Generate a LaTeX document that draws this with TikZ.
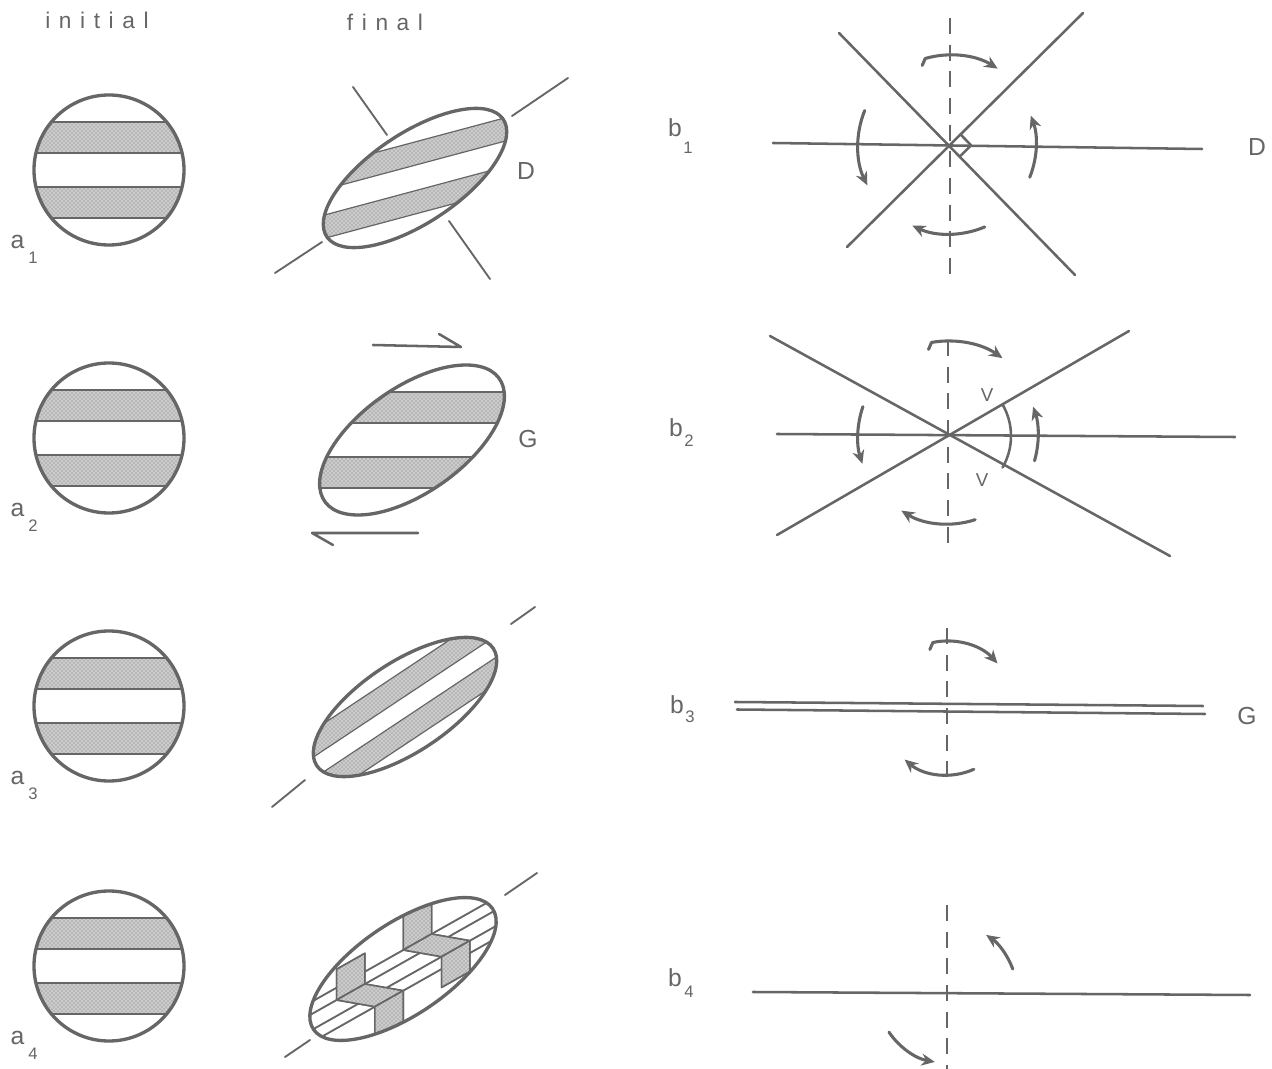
\documentclass[tikz,border=0pt]{standalone}
\usepackage{fontspec}
\setmainfont{Liberation Sans}
\newfontfamily\spacedfont[LetterSpace=38]{Liberation Sans}
\usetikzlibrary{patterns,arrows.meta,calc}
\definecolor{ink}{HTML}{666666}
\begin{document}
\begin{tikzpicture}[x=0.75pt,y=-0.75pt,line cap=round,line join=round,
  outl/.style={draw=ink,line width=2.5pt},
  thinln/.style={draw=ink,line width=1.4pt},
  bline/.style={draw=ink,line width=1.9pt},
  vdash/.style={draw=ink,line width=1.9pt,line cap=butt,dash pattern=on 12pt off 8pt},
  stip/.style={fill=black!20,postaction={pattern=crosshatch dots,pattern color=black!55}},
  bandedge/.style={draw=ink,line width=0.9pt},
  carrow/.style={draw=ink,line width=2.3pt,-{Stealth[length=10pt,width=9pt]}},
  lab/.style={text=ink,inner sep=0pt,font=\fontsize{18.5}{20}\selectfont},
  sublab/.style={text=ink,inner sep=0pt,font=\fontsize{12.5}{14}\selectfont},
  vlab/.style={text=ink,inner sep=0pt,font=\fontsize{14}{16}\selectfont},
  headlab/.style={text=ink,inner sep=0pt,font={\spacedfont\fontsize{17}{19}\selectfont}},
  face/.style={fill=white,draw=ink,line width=1.2pt,postaction={fill=black!20},postaction={pattern=crosshatch dots,pattern color=black!55},postaction={draw=ink,line width=1.2pt}}]

\path[use as bounding box,fill=white] (0,0) rectangle (1272,1069);

% headings
\node[headlab] (tinit) at (97,20) {initial};
\node[headlab] (tfin) at (385,22) {final};

% initial circles
\foreach \cy/\n in {170/1,438/2,706/3,966/4}{
  \begin{scope}
    \clip (109,\cy) circle[radius=75];
    \path[stip] (20,\cy-48) rectangle (200,\cy-17);
    \path[stip] (20,\cy+17) rectangle (200,\cy+48);
    \draw[bandedge] (20,\cy-48) -- (200,\cy-48) (20,\cy-17) -- (200,\cy-17)
                    (20,\cy+17) -- (200,\cy+17) (20,\cy+48) -- (200,\cy+48);
  \end{scope}
  \draw[outl] (109,\cy) circle[radius=75];
  \node[lab] (a\n) at (17.5,\cy+71.5) {a};
  \node[sublab] (a\n s) at (33,\cy+87.5) {\n};
}

% a1 final (D)
\begin{scope}[shift={(415,178)}]
  \begin{scope}[cm={1.1287,0.3024,0.4708,0.8773,(0,0)}]
    \clip (0,0) circle[radius=75];
    \path[stip] (-90,-48) rectangle (90,-17);
    \path[stip] (-90,17) rectangle (90,48);
    \draw[bandedge] (-90,-48)--(90,-48) (-90,-17)--(90,-17) (-90,17)--(90,17) (-90,48)--(90,48);
  \end{scope}
  \draw[outl,cm={1.1287,0.3024,0.4708,0.8773,(0,0)}] (0,0) circle[radius=75];
\end{scope}
\draw[thinln] (275,273) -- (322,242);
\draw[thinln] (512,116) -- (568,78);
\draw[thinln] (353,87) -- (387,135);
\draw[thinln] (449,221) -- (490,279);
\node[lab] (lD1) at (526,171) {D};

% a2 final (G)
\begin{scope}[shift={(412,440)}]
  \begin{scope}[cm={1,0,0.72,1,(0,0)}]
    \clip (0,0) circle[radius=75];
    \path[stip] (-150,-48) rectangle (150,-17);
    \path[stip] (-150,17) rectangle (150,48);
    \draw[bandedge] (-150,-48)--(150,-48) (-150,-17)--(150,-17) (-150,17)--(150,17) (-150,48)--(150,48);
  \end{scope}
  \draw[outl,cm={1,0,0.72,1,(0,0)}] (0,0) circle[radius=75];
\end{scope}
\draw[bline] (373,345) -- (461,347) -- (439,334);
\draw[bline] (418,533) -- (312,533) -- (333,545);
\node[lab] (lG1) at (528,439) {G};

% a3 final
\begin{scope}[shift={(405,707)}]
  \begin{scope}[cm={1.1769,0.7820,-0.3320,0.4997,(0,0)}]
    \clip (0,0) circle[radius=75];
    \path[stip] (-90,-52) rectangle (90,-15);
    \path[stip] (-90,15) rectangle (90,52);
    \draw[bandedge] (-90,-52)--(90,-52) (-90,-15)--(90,-15) (-90,15)--(90,15) (-90,52)--(90,52);
  \end{scope}
  \draw[outl,cm={1.1769,0.7820,-0.3320,0.4997,(0,0)}] (0,0) circle[radius=75];
\end{scope}
\draw[thinln] (272,807) -- (305,780);
\draw[thinln] (511,624) -- (535,607);

% a4 final
\begin{scope}
  \clip[rotate around={34:(403,969)}] (403,969) ellipse[x radius=108,y radius=46];
  \foreach \px/\py in {403.3/950,441.6/956.7,336.6/1000,374.9/1006.7}{
    \draw[thinln] (\px-170,\py+96) -- (\px+170,\py-96);
  }
  \draw[face] (403.3,950) -- (431.6,934) -- (431.6,900) -- (403.3,912) -- cycle;
  \draw[face] (403.3,950) -- (431.6,934) -- (469.9,940.7) -- (441.6,956.7) -- cycle;
  \draw[face] (441.6,956.7) -- (469.9,940.7) -- (469.9,971.4) -- (441.6,987.4) -- cycle;
  \draw[face] (336.6,1000) -- (364.9,984) -- (364.9,953.3) -- (336.6,969.3) -- cycle;
  \draw[face] (336.6,1000) -- (364.9,984) -- (403.2,990.7) -- (374.9,1006.7) -- cycle;
  \draw[face] (374.9,1006.7) -- (403.2,990.7) -- (403.2,1021.4) -- (374.9,1037.4) -- cycle;
\end{scope}
\draw[outl,rotate around={34:(403,969)}] (403,969) ellipse[x radius=108,y radius=46];
\draw[thinln] (285,1057) -- (310,1040);
\draw[thinln] (505,895) -- (537,873);

% b1
\coordinate (O1) at (950,145);
\draw[bline] (773,143) -- (1202,149);
\draw[bline] (839,33) -- (1075,275);
\draw[bline] (847,247) -- (1083,13);
\draw[vdash] (950,18) -- (950,277);
\draw[bline] (960.6,134.5) -- (971.1,145.3) -- (960.5,155.8);
\draw[carrow] ($(O1)+(-106:90)+(-3,7)$) -- ($(O1)+(-106:90)$) arc[start angle=-106,end angle=-58,radius=90];
\draw[carrow] ($(O1)+(202:92)$) arc[start angle=202,end angle=154,radius=92];
\draw[carrow] ($(O1)+(67:89)$) arc[start angle=67,end angle=115,radius=89];
\draw[carrow] ($(O1)+(22:86)$) arc[start angle=22,end angle=-20,radius=86];
\node[lab] (b1) at (675,128) {b};
\node[sublab] (b1s) at (688,148) {1};
\node[lab] (lD2) at (1257,147) {D};

% b2
\coordinate (O2) at (948,436);
\draw[bline] (777,434) -- (1235,437);
\draw[bline] (770,336) -- (1170,556);
\draw[bline] (777,535) -- (1129,331);
\draw[vdash] (948,340) -- (948,543);
\draw[bline] ($(O2)+(-30:63)$) arc[start angle=-30,end angle=30,radius=63];
\draw[carrow] ($(O2)+(-100:95)+(-3,7)$) -- ($(O2)+(-100:95)$) arc[start angle=-100,end angle=-55,radius=95];
\draw[carrow] ($(O2)+(199:90)$) arc[start angle=199,end angle=162,radius=90];
\draw[carrow] ($(O2)+(72:88)$) arc[start angle=72,end angle=122,radius=88];
\draw[carrow] ($(O2)+(16:90)$) arc[start angle=16,end angle=-19,radius=90];
\node[vlab] (v1) at (987,395) {V};
\node[vlab] (v2) at (982,480) {V};
\node[lab] (b2) at (676,428) {b};
\node[sublab] (b2s) at (689,441) {2};

% b3
\coordinate (O3) at (947,709);
\draw[bline] (735,702) -- (1203,706);
\draw[bline] (737,709.5) -- (1205,714);
\draw[vdash] (947,628) -- (947,778);
\draw[carrow] ($(O3)+(-102:68)+(-3,7)$) -- ($(O3)+(-102:68)$) arc[start angle=-102,end angle=-42,radius=68];
\draw[carrow] ($(O3)+(66:66)$) arc[start angle=66,end angle=130,radius=66];
\node[lab] (b3) at (677,705) {b};
\node[sublab] (b3s) at (690,717) {3};
\node[lab] (lG2) at (1247,716) {G};

% b4
\coordinate (O4) at (947,993);
\draw[bline] (753,992) -- (1250,995);
\draw[vdash] (947,905) -- (947,1069);
\draw[carrow] ($(O4)+(-20:70)$) arc[start angle=-20,end angle=-56,radius=70];
\draw[carrow] ($(O4)+(146:70)$) arc[start angle=146,end angle=100,radius=70];
\node[lab] (b4) at (675,978) {b};
\node[sublab] (b4s) at (689,992) {4};
\end{tikzpicture}
\end{document}
